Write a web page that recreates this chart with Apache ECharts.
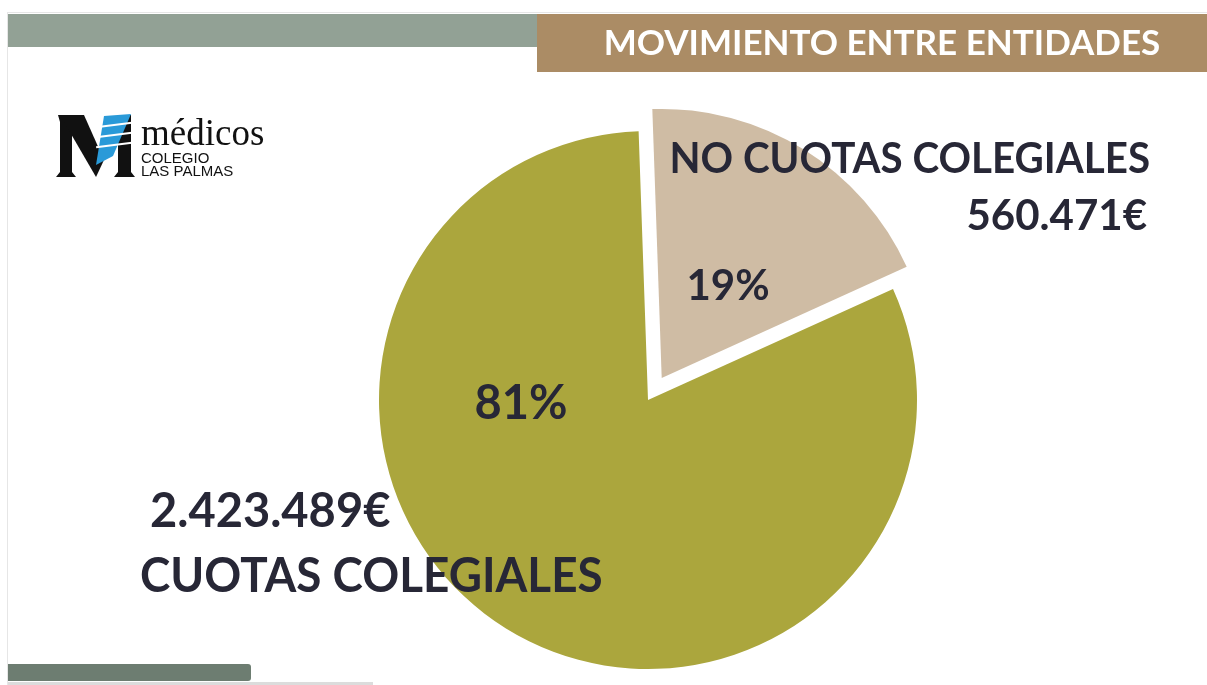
<!DOCTYPE html>
<html lang="es">
<head>
    <meta charset="UTF-8">
    <title>Movimiento entre entidades</title>
    <script src="https://cdn.jsdelivr.net/npm/echarts@6/dist/echarts.min.js"></script>
    <style>
        html, body {
            margin: 0;
            padding: 0;
            background: #ffffff;
        }
        #chart {
            width: 1207px;
            height: 685px;
        }
    </style>
</head>
<body>
    <div id="chart"></div>

    <script>
        // Datos
        const categories = ['NO CUOTAS COLEGIALES', 'CUOTAS COLEGIALES'];
        const amounts = [560471, 2423489];
        const sliceColors = ['#cfbca4', '#aba63d'];
        const title = 'MOVIMIENTO ENTRE ENTIDADES';

        const textColor = '#272736';
        const fontFam = 'Lato, "Open Sans", sans-serif';

        // 2423489 -> "2.423.489€"
        function euros(v) {
            return String(v).replace(/\B(?=(\d{3})+(?!\d))/g, '.') + '€';
        }

        const chart = echarts.init(document.getElementById('chart'));

        // geometría de la tarta; la porción "NO CUOTAS" va separada
        const pieCenter = [648, 400];
        const startAngle = 92;
        const explode = 26;
        const share0 = amounts[0] / (amounts[0] + amounts[1]);
        const midRad = (startAngle - share0 * 180) * Math.PI / 180;
        const explodedCenter = [
            pieCenter[0] + explode * Math.cos(midRad),
            pieCenter[1] - explode * Math.sin(midRad)
        ];

        // posiciones y tamaños de las etiquetas de porcentaje
        const pctPos = [[728, 286], [521, 404]];
        const pctSize = [42, 47];

        // una serie por porción: la otra queda transparente
        function pieSeries(visibleIndex, center) {
            return {
                type: 'pie',
                center: center,
                radius: 269,
                startAngle: startAngle,
                clockwise: true,
                percentPrecision: 0,
                silent: true,
                emphasis: { disabled: true },
                itemStyle: { borderWidth: 0 },
                label: {
                    position: 'inside',
                    formatter: '{d}%',
                    color: textColor,
                    fontFamily: fontFam,
                    fontWeight: 'bold'
                },
                labelLine: { show: false },
                labelLayout: function (params) {
                    const p = pctPos[params.dataIndex];
                    return { x: p[0], y: p[1], align: 'center', verticalAlign: 'middle' };
                },
                data: categories.map(function (name, i) {
                    const on = i === visibleIndex;
                    return {
                        name: name,
                        value: amounts[i],
                        itemStyle: { color: on ? sliceColors[i] : 'rgba(0,0,0,0)' },
                        label: { show: on, fontSize: pctSize[i] }
                    };
                })
            };
        }

        const option = {
            animation: false,
            graphic: [
                // borde de la diapositiva
                { type: 'rect', shape: { x: 7, y: 12, width: 1200, height: 1 }, style: { fill: '#e6e6e6' } },
                { type: 'rect', shape: { x: 7, y: 12, width: 1, height: 673 }, style: { fill: '#e6e6e6' } },
                // cabecera
                { type: 'rect', shape: { x: 8, y: 14, width: 530, height: 33 }, style: { fill: '#92a195' } },
                { type: 'rect', shape: { x: 537, y: 14, width: 670, height: 58 }, style: { fill: '#ab8c65' } },
                {
                    type: 'text',
                    style: {
                        x: 882, y: 44, text: title,
                        fill: '#ffffff', font: 'bold 35px ' + fontFam,
                        align: 'center', verticalAlign: 'middle'
                    }
                },
                // barra inferior
                { type: 'rect', shape: { x: 8, y: 682, width: 365, height: 3 }, style: { fill: '#dcdcdc' } },
                { type: 'rect', shape: { x: 8, y: 664, width: 243, height: 17, r: [0, 3, 3, 0] }, style: { fill: '#6d7d71' } },
                // logo
                {
                    type: 'polygon',
                    shape: { points: [[58, 115], [72, 115], [72, 172], [76, 177], [56, 177], [60, 172], [60, 122]] },
                    style: { fill: '#111111' }
                },
                {
                    type: 'polygon',
                    shape: { points: [[60, 115], [84, 115], [104, 160], [96, 177]] },
                    style: { fill: '#111111' }
                },
                {
                    type: 'polygon',
                    shape: { points: [[118, 115], [131, 115], [131, 172], [135, 177], [114, 177], [118, 172]] },
                    style: { fill: '#111111' }
                },
                {
                    type: 'polygon',
                    shape: { points: [[104, 116], [131, 114], [113, 156], [96, 165]] },
                    style: { fill: '#2a9ad8' }
                },
                { type: 'rect', shape: { x: 96, y: 124, width: 36, height: 2 }, style: { fill: '#ffffff' }, rotation: 0.12, originX: 114, originY: 125 },
                { type: 'rect', shape: { x: 96, y: 134, width: 36, height: 2 }, style: { fill: '#ffffff' }, rotation: 0.12, originX: 114, originY: 135 },
                { type: 'rect', shape: { x: 96, y: 144, width: 36, height: 2 }, style: { fill: '#ffffff' }, rotation: 0.12, originX: 114, originY: 145 },
                {
                    type: 'text',
                    style: { x: 141, y: 154, text: 'médicos', fill: '#111111', font: '37px "Liberation Serif", "DejaVu Serif", serif', verticalAlign: 'bottom' }
                },
                {
                    type: 'text',
                    style: { x: 141, y: 159, text: 'COLEGIO', fill: '#111111', font: '15px "Liberation Sans", Arial, sans-serif', verticalAlign: 'middle' }
                },
                {
                    type: 'text',
                    style: { x: 141, y: 172, text: 'LAS PALMAS', fill: '#111111', font: '15px "Liberation Sans", Arial, sans-serif', verticalAlign: 'middle' }
                },
                // etiquetas de categoría y cantidad
                {
                    type: 'text', z: 10, scaleX: 0.96, originX: 1150,
                    style: { x: 1150, y: 159, text: categories[0], fill: textColor, font: 'bold 42px ' + fontFam, align: 'right', verticalAlign: 'middle' }
                },
                {
                    type: 'text', z: 10,
                    style: { x: 1147, y: 216, text: euros(amounts[0]), fill: textColor, font: 'bold 42px ' + fontFam, align: 'right', verticalAlign: 'middle' }
                },
                {
                    type: 'text', z: 10,
                    style: { x: 150, y: 512, text: euros(amounts[1]), fill: textColor, font: 'bold 47px ' + fontFam, align: 'left', verticalAlign: 'middle' }
                },
                {
                    type: 'text', z: 10, scaleX: 0.975, originX: 140,
                    style: { x: 140, y: 577, text: categories[1], fill: textColor, font: 'bold 47px ' + fontFam, align: 'left', verticalAlign: 'middle' }
                }
            ],
            series: [
                pieSeries(1, pieCenter),
                pieSeries(0, explodedCenter)
            ]
        };

        chart.setOption(option);
    </script>
</body>
</html>
